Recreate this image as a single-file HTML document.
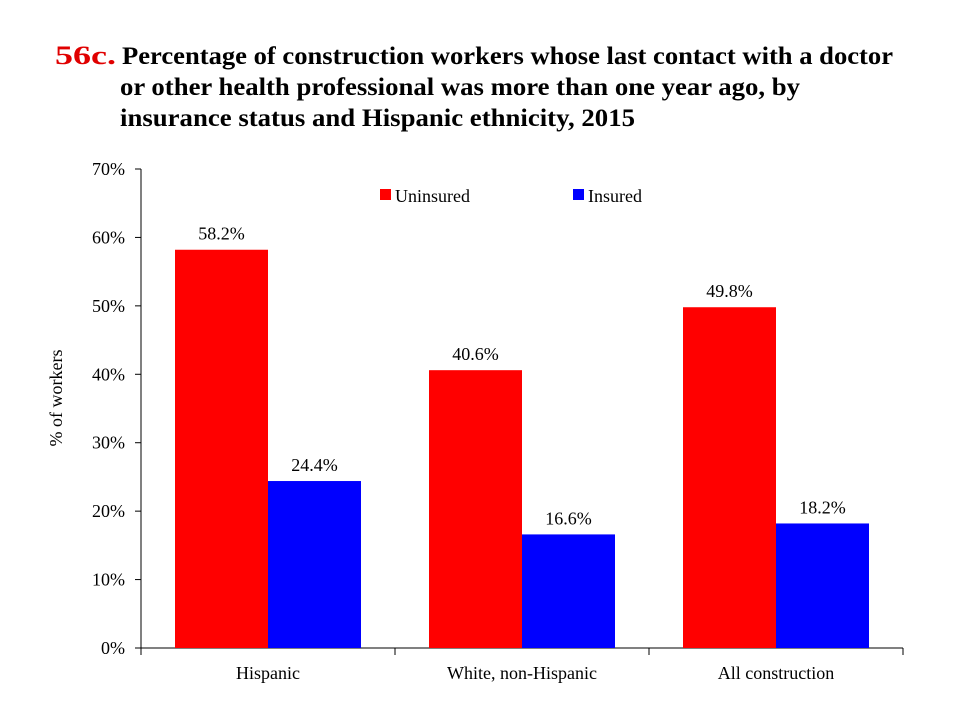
<!DOCTYPE html>
<html><head><meta charset="utf-8"><style>
body{margin:0;background:#fff;}
svg text{font-family:"Liberation Serif",serif;}
</style></head><body>
<svg width="960" height="720" xmlns="http://www.w3.org/2000/svg">
<g font-weight="bold" font-size="25" fill="#000">
<text x="55" y="64" fill="#e00000" font-size="26" textLength="61" lengthAdjust="spacingAndGlyphs">56c.</text>
<text x="122" y="64" textLength="771" lengthAdjust="spacingAndGlyphs">Percentage of construction workers whose last contact with a doctor</text>
<text x="120" y="95" textLength="680" lengthAdjust="spacingAndGlyphs">or other health professional was more than one year ago, by</text>
<text x="120" y="126" textLength="515" lengthAdjust="spacingAndGlyphs">insurance status and Hispanic ethnicity, 2015</text>
</g>
<g id="axes"></g>
<g id="bars"></g>
<text transform="translate(62,398) rotate(-90)" text-anchor="middle" font-size="18">% of workers</text>
<g font-size="18">
<rect x="380" y="189" width="11" height="11" fill="#ff0000"/>
<text x="395" y="202">Uninsured</text>
<rect x="573" y="189" width="11" height="11" fill="#0000ff"/>
<text x="588" y="202">Insured</text>
</g>
</svg>
<script>
const categories=["Hispanic","White, non-Hispanic","All construction"];
const uninsured=[58.2,40.6,49.8];
const insured=[24.4,16.6,18.2];
const yTicks=[0,10,20,30,40,50,60,70];
const NS="http://www.w3.org/2000/svg";
const x0=141,x1=903,y0=648,yTop=169,yMax=70;
const yS=v=>y0-(v/yMax)*(y0-yTop);
const catW=(x1-x0)/categories.length;
const barW=93, pad=34;
function mk(t,a,p){const e=document.createElementNS(NS,t);for(const k in a)e.setAttribute(k,a[k]);p.appendChild(e);return e;}
const axes=document.getElementById('axes'),bars=document.getElementById('bars');
let yl=mk('line',{x1:x0,y1:yTop,x2:x0,y2:y0,stroke:'#000','stroke-width':1},axes);


let xl=mk('line',{x1:x0,y1:y0,x2:x1,y2:y0,stroke:'#000','stroke-width':1},axes);


yTicks.forEach(v=>{
 const y=yS(v);
 let t=mk('line',{x1:x0-6,y1:y,x2:x0,y2:y,stroke:'#000'},axes);
 
 
 let l=mk('text',{x:x0-16,y:y+6,'text-anchor':'end','font-size':18},axes);
 l.textContent=v+'%';
 
 
});
for(let i=0;i<=categories.length;i++){
 let t=mk('line',{x1:x0+i*catW,y1:y0,x2:x0+i*catW,y2:y0+7,stroke:'#000'},axes);
 
 
}
categories.forEach((c,i)=>{
 const gx=x0+i*catW;
 let l=mk('text',{x:gx+catW/2,y:679,'text-anchor':'middle','font-size':18},axes);
 l.textContent=c;
 
 
 [[uninsured[i],'#ff0000','uninsured'],[insured[i],'#0000ff','insured']].forEach((s,j)=>{
  const bx=gx+pad+j*barW, by=yS(s[0]);
  let r=mk('rect',{x:bx,y:by,width:barW,height:y0-by,fill:s[1]},bars);
  
  
  let t=mk('text',{x:bx+barW/2,y:by-10,'text-anchor':'middle','font-size':18},bars);
  t.textContent=s[0].toFixed(1)+'%';
  
  
 });
});
</script>
</body></html>
